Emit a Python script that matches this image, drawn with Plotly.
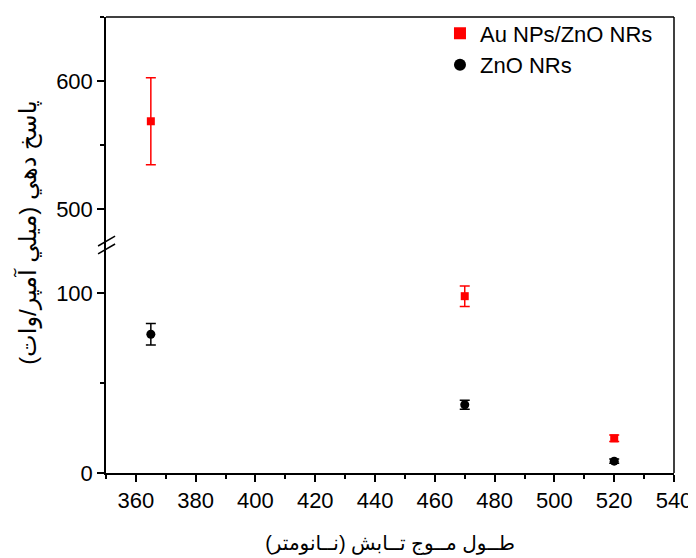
import plotly.graph_objects as go

# Data
wavelength = [365, 470, 520]
au_zno = [568.6, 98.5, 19.3]
au_zno_err = [34, 5.7, 1.8]
zno = [77.3, 38.0, 6.6]
zno_err = [6.0, 2.5, 1.2]

x_ticks = [360, 380, 400, 420, 440, 460, 480, 500, 520, 540]
lower_range = [0, 127]
upper_range = [472, 650]

RED = "#ff0000"
BLACK = "#000000"
FONT = "Liberation Sans, Arial, DejaVu Sans, sans-serif"

fig = go.Figure()

# split points between the lower and upper (broken) axis segments
def split(xs, ys, es, lo, hi):
    px, py, pe = [], [], []
    for x, y, e in zip(xs, ys, es):
        if lo <= y <= hi:
            px.append(x); py.append(y); pe.append(e)
    return px, py, pe

for name, ys, es, color, sym, size in [
    ("Au NPs/ZnO NRs", au_zno, au_zno_err, RED, "square", 8),
    ("ZnO NRs", zno, zno_err, BLACK, "circle", 9),
]:
    first = True
    for yref, rng in (("y", lower_range), ("y2", upper_range)):
        px, py, pe = split(wavelength, ys, es, rng[0], rng[1])
        if not px:
            continue
        fig.add_trace(go.Scatter(
            x=px, y=py, yaxis=yref, mode="markers", name=name,
            legendgroup=name, showlegend=first,
            marker=dict(symbol=sym, size=size, color=color),
            error_y=dict(type="data", array=pe, visible=True, color=color,
                         thickness=1.5, width=5),
        ))
        first = False

axis_common = dict(
    showline=True, linecolor="black", linewidth=1.5,
    ticks="outside", ticklen=7, tickwidth=1.5, tickcolor="black",
    showgrid=False, zeroline=False,
    tickfont=dict(family=FONT, size=22, color="black"),
)

fig.update_layout(
    width=688, height=550,
    paper_bgcolor="white", plot_bgcolor="white",
    margin=dict(l=98, r=22, t=4, b=85),
    font=dict(family=FONT, color="black"),
    xaxis=dict(
        range=[350, 540], tickvals=x_ticks, anchor="y",
        minor=dict(ticks="outside", ticklen=4, dtick=10, tick0=350,
                   tickcolor="black", tickwidth=1.5),
        title=dict(text="طــول مــوج تــابش (نــانومتر)",
                   font=dict(family=FONT, size=20), standoff=24),
        automargin=False,
        **axis_common,
    ),
    yaxis=dict(
        range=lower_range, domain=[0, 0.5], dtick=100, tick0=0,
        minor=dict(ticks="outside", ticklen=4, dtick=50, tickcolor="black", tickwidth=1.5),
        automargin=False,
        **axis_common,
    ),
    yaxis2=dict(
        range=upper_range, domain=[0.5, 1], dtick=100, tick0=0, anchor="x",
        minor=dict(ticks="outside", ticklen=4, dtick=50, tickcolor="black", tickwidth=1.5),
        automargin=False,
        **axis_common,
    ),
    legend=dict(
        x=0.588, y=1.01, xanchor="left", yanchor="top",
        bgcolor="rgba(0,0,0,0)", tracegroupgap=0,
        font=dict(family=FONT, size=22, color="black"),
        itemsizing="constant",
    ),
    showlegend=True,
)

# y title
fig.add_annotation(
    text="پاسخ دهي (ميلي آمپر/وات)", textangle=-90,
    xref="paper", yref="paper", x=-0.137, y=0.527,
    xanchor="center", yanchor="middle", showarrow=False,
    font=dict(family=FONT, size=24, color="black"),
)

# frame (top and right) and axis-break marks
fig.add_shape(type="line", xref="paper", yref="paper", x0=0, x1=1, y0=1, y1=1,
              line=dict(color="black", width=1.5))
fig.add_shape(type="line", xref="paper", yref="paper", x0=1, x1=1, y0=0, y1=1,
              line=dict(color="black", width=1.5))
for dy in (-4, 4):
    fig.add_shape(type="line", xref="paper", yref="paper",
                  x0=-0.014, x1=0.016,
                  y0=0.5 + (dy - 5) / 461, y1=0.5 + (dy + 5) / 461,
                  line=dict(color="black", width=1.5))

fig.write_html("out.html")
